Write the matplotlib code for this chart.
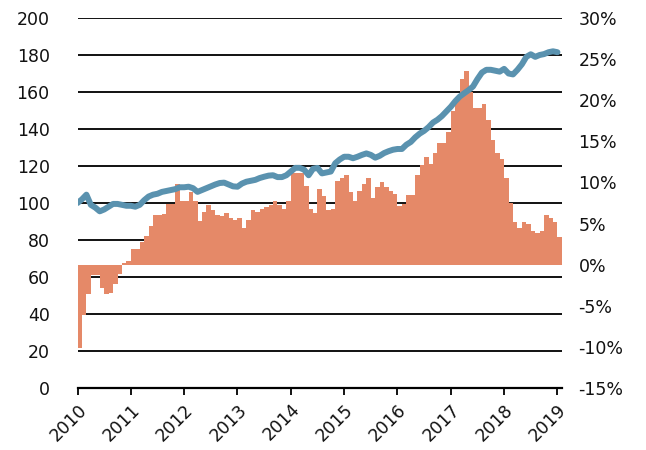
import matplotlib
matplotlib.use('Agg')
import matplotlib.pyplot as plt
import numpy as np

# Monthly data, Jan 2010 .. Jan 2019
start_year = 2010
index_level = [
    100, 102, 104.5, 99, 97.5, 95.5, 96.5, 98, 99.5, 99.5, 99, 98.5,
    98.5, 98, 99, 101.5, 103.5, 104.5, 105, 106, 106.5, 107, 107.5, 108.5,
    108.5, 108.8, 108, 106, 107, 108, 109, 110, 110.8, 111, 110, 109,
    108.8, 110.5, 111.5, 112, 112.5, 113.5, 114.2, 114.8, 115, 114, 114, 115,
    117, 119, 119, 118, 115, 118.5, 119, 116, 116.5, 117, 121.5, 123.5,
    125, 125, 124.2, 125, 126, 126.8, 126, 124.5, 125.5, 127, 128, 128.8,
    129.2, 129.2, 131.5, 133, 135.5, 137.5, 139, 141, 143.5, 145, 147, 149.5,
    152, 155, 157.5, 159.3, 161, 163, 167, 170.5, 172, 172, 171.5, 171,
    172.5, 170, 169.5, 172, 175, 179, 180.4, 179, 180, 180.5, 181.5, 182,
    181.5,
]
yoy_change = [
    -10.1, -6.1, -3.6, -1.3, -1.3, -2.8, -3.6, -3.4, -2.4, -1.1, 0.2, 0.5,
    1.9, 1.9, 2.7, 3.5, 4.7, 6.0, 6.1, 6.2, 7.4, 7.4, 9.8, 7.8,
    7.8, 8.8, 7.8, 5.3, 6.4, 7.2, 6.7, 6.1, 5.9, 6.3, 5.7, 5.4,
    5.7, 4.5, 5.4, 6.6, 6.4, 6.8, 7.0, 7.3, 7.8, 7.2, 6.8, 7.8,
    11.1, 11.1, 11.1, 9.6, 6.8, 6.3, 9.2, 8.3, 6.6, 6.8, 10.2, 10.6,
    10.9, 8.8, 7.8, 9.0, 9.8, 10.5, 8.1, 9.4, 10.0, 9.5, 8.9, 8.6,
    7.1, 7.4, 8.5, 8.5, 10.9, 12.1, 13.1, 12.3, 13.6, 14.8, 14.8, 16.1,
    18.7, 20.2, 22.6, 23.5, 21.0, 19.0, 19.1, 19.6, 17.6, 15.2, 13.6, 12.9,
    10.6, 7.5, 5.2, 4.5, 5.2, 5.0, 4.1, 3.8, 4.1, 6.0, 5.7, 5.2,
    3.4,
]
year_ticks = list(range(2010, 2020))
left_ticks = list(range(0, 201, 20))
right_ticks = list(range(-15, 31, 5))

plt.rcParams['font.family'] = ['DejaVu Sans']
plt.rcParams['axes.unicode_minus'] = False
label_size = 12.5

months = start_year + np.arange(len(yoy_change)) / 12

fig = plt.figure(figsize=(6.46, 4.5), dpi=100)
ax = fig.add_axes([0.12, 0.1378, 0.7498, 0.8222])
ax_bar = ax.twinx()
ax_line = ax.twinx()

# grid + left labels
ax.set_ylim(0, 200)
ax.set_yticks(left_ticks)
ax.set_yticklabels([str(v) for v in left_ticks], fontsize=label_size, color='#111111')
for v in left_ticks:
    ax.axhline(v, color='#111111', lw=1.4, zorder=0)
ax.tick_params(axis='y', length=0, pad=20)

# bars on right scale
ax_bar.bar(months, yoy_change, width=1 / 12, align='edge', color='#E58968',
           edgecolor='none')
ax_bar.set_ylim(-15, 30)
ax_bar.set_yticks(right_ticks)
ax_bar.set_yticklabels([f'{v}%' for v in right_ticks], fontsize=label_size, color='#111111')
ax_bar.tick_params(axis='y', length=0, pad=12)

# index line on left scale
ax_line.plot(months, index_level, color='#5A92AF', lw=4.3, solid_capstyle='round')
ax_line.set_ylim(0, 200)
ax_line.set_yticks([])

for a in (ax, ax_bar, ax_line):
    a.set_xlim(start_year, 2019 + 1 / 12)
    for s in a.spines.values():
        s.set_visible(False)
    a.patch.set_visible(False)

ax.spines['bottom'].set_visible(True)
ax.spines['bottom'].set_linewidth(1.6)
ax.set_xticks(year_ticks)
ax.set_xticklabels([str(y) for y in year_ticks], rotation=45, ha='right',
                   rotation_mode='anchor', fontsize=label_size, color='#111111')
ax.tick_params(axis='x', length=5, width=1.3, pad=4)

ax.set_zorder(0)
ax_bar.set_zorder(1)
ax_line.set_zorder(2)

fig.savefig('out.png', dpi=100)
